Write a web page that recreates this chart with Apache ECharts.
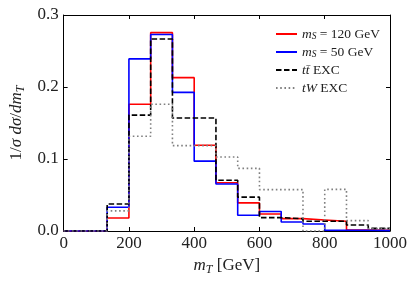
<!DOCTYPE html>
<html>
<head>
<meta charset="utf-8">
<script src="https://cdn.jsdelivr.net/npm/echarts@6/dist/echarts.min.js"></script>
<style>html,body{margin:0;padding:0;background:#fff}#c{width:416px;height:284px}</style>
</head>
<body>
<div id="c"></div>
<script>
// Bin edges (GeV)
const edges = [0, 66.67, 133.33, 200, 266.67, 333.33, 400, 466.67, 533.33, 600, 666.67, 733.33, 800, 866.67, 933.33, 1000];
// Normalised bin contents
const mS120 = [0, 0, 0.018, 0.176, 0.2755, 0.213, 0.119, 0.067, 0.039, 0.0236, 0.0172, 0.0153, 0.0135, 0.0014, 0.001];
const mS50  = [0, 0, 0.033, 0.239, 0.273, 0.1926, 0.097, 0.0653, 0.0218, 0.027, 0.0125, 0.0097, 0.001, 0.001, 0.0005];
const ttEXC = [0, 0, 0.0375, 0.161, 0.2667, 0.157, 0.157, 0.0704, 0.047, 0.0186, 0.017, 0.0135, 0.0135, 0.0083, 0.0037];
const tWEXC = [0, 0, 0.028, 0.1315, 0.176, 0.1186, 0.1186, 0.1028, 0.087, 0.0575, 0.0575, 0, 0.0578, 0.0144, 0.0035];
const xTicks = [0, 200, 400, 600, 800, 1000];
const yTicks = [0.0, 0.1, 0.2, 0.3];

function stepData(vals) {
  const d = vals.map((v, i) => [edges[i], v]);
  d.push([edges[edges.length - 1], vals[vals.length - 1]]);
  return d;
}

const FONT = 'Liberation Serif';
const legendLabels = {
  r: '{i|m}{s|S} = 120 GeV',
  b: '{i|m}{s|S} = 50 GeV',
  k: '{i|tt̄} EXC',
  g: '{i|tW} EXC'
};
const richSmall = {
  i: { fontFamily: FONT, fontStyle: 'italic', fontSize: 13.5, lineHeight: 14 },
  s: { fontFamily: FONT, fontStyle: 'italic', fontSize: 9.5, lineHeight: 10, verticalAlign: 'bottom' }
};
const richBig = {
  i: { fontFamily: FONT, fontStyle: 'italic', fontSize: 17, lineHeight: 20 },
  s: { fontFamily: FONT, fontStyle: 'italic', fontSize: 12, lineHeight: 13, verticalAlign: 'bottom' }
};

function mkSeries(name, vals, color, type) {
  return {
    name: name, type: 'line', step: 'end', symbol: 'none', data: stepData(vals),
    lineStyle: { color: color, width: 1.6, type: type }, itemStyle: { color: color },
    animation: false
  };
}

const chart = echarts.init(document.getElementById('c'), null, { renderer: 'canvas' });
const axisCommon = {
  axisLine: { show: true, onZero: false, lineStyle: { color: '#000', width: 1 } },
  axisTick: { show: true, inside: true, length: 4, lineStyle: { color: '#000', width: 1 } },
  splitLine: { show: false }
};
chart.setOption({
  animation: false,
  grid: { left: 58.5, right: 26, top: 15, bottom: 53 },
  legend: {
    left: 270, top: 22, orient: 'vertical', itemWidth: 21, itemHeight: 12, itemGap: 4,
    itemStyle: { opacity: 0, borderWidth: 0 },
    textStyle: { fontFamily: FONT, fontSize: 13.5, color: '#222', rich: richSmall },
    formatter: n => legendLabels[n],
    data: ['r', 'b', 'k', 'g']
  },
  xAxis: [
    Object.assign({
      type: 'value', min: 0, max: 1000, interval: 200, position: 'bottom',
      axisLabel: { fontFamily: FONT, fontSize: 17, color: '#222', margin: 4,
        formatter: v => xTicks.includes(v) ? String(v) : '' },
      name: '{i|m}{s|T} [GeV]', nameLocation: 'middle', nameGap: 23,
      nameTextStyle: { fontFamily: FONT, fontSize: 17, color: '#222', rich: richBig }
    }, axisCommon),
    Object.assign({ type: 'value', min: 0, max: 1000, interval: 200, position: 'top',
      axisLabel: { show: false } }, axisCommon)
  ],
  yAxis: [
    Object.assign({
      type: 'value', min: 0, max: 0.3, interval: 0.1, position: 'left',
      axisLabel: { fontFamily: FONT, fontSize: 17, color: '#222', margin: 5,
        formatter: v => yTicks.map(t => t.toFixed(1)).includes(v.toFixed(1)) ? v.toFixed(1) : '' },
      name: '1/{i|σ} {i|dσ}/{i|dm}{s|T}', nameLocation: 'middle', nameGap: 36, nameRotate: 90,
      nameTextStyle: { fontFamily: FONT, fontSize: 17, color: '#222', rich: richBig }
    }, axisCommon),
    Object.assign({ type: 'value', min: 0, max: 0.3, interval: 0.1, position: 'right',
      axisLabel: { show: false } }, axisCommon)
  ],
  series: [
    mkSeries('r', mS120, '#ff0000', 'solid'),
    mkSeries('b', mS50, '#0000ff', 'solid'),
    mkSeries('k', ttEXC, '#000000', [5.5, 2.5]),
    mkSeries('g', tWEXC, '#808080', [1.6, 2.6])
  ]
});
</script>
</body>
</html>
